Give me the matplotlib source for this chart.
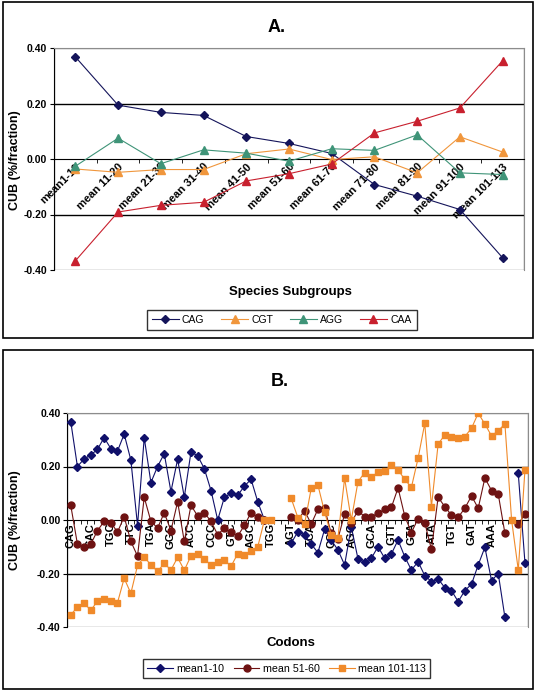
import matplotlib

matplotlib.use("Agg")

import matplotlib.pyplot as plt
import numpy as np
from matplotlib.patches import Rectangle

plt.rcParams['font.family'] = ['Liberation Sans', 'DejaVu Sans']

# ---- panel A data ----
subgroups = ["mean1-10", "mean 11-20", "mean 21-30", "mean 31-40", "mean 41-50",
             "mean 51-60", "mean 61-70", "mean 71-80", "mean 81-90", "mean 91-100",
             "mean 101-113"]
cag = [0.368, 0.194, 0.168, 0.157, 0.081, 0.056, 0.020, -0.092, -0.134, -0.182, -0.356]
cgt = [-0.036, -0.048, -0.038, -0.038, 0.019, 0.036, -0.002, 0.008, -0.050, 0.080, 0.025]
agg = [-0.026, 0.075, -0.017, 0.033, 0.021, -0.008, 0.037, 0.031, 0.087, -0.050, -0.056]
caa = [-0.367, -0.191, -0.167, -0.156, -0.079, -0.053, -0.018, 0.094, 0.136, 0.184, 0.354]

# ---- panel B data (69 codon positions, labels shown on every 3rd) ----
codon_labels = ["CAG", "GAC", "TGC", "TTC", "TGA", "GGG", "ACC", "CCC", "GTC", "AGC", "TGG",
                "AGT", "TCA", "CGC", "AGG", "GCA", "GTT", "GTA", "ATA", "TGT", "GAT", "AAA"]
nan = np.nan
mean1_10 = [0.368, 0.200, 0.228, 0.243, 0.264, 0.308, 0.267, 0.258, 0.321, 0.224,
            -0.021, 0.308, 0.140, 0.200, 0.248, 0.106, 0.227, 0.085, 0.254, 0.240,
            0.192, 0.110, 0.000, 0.085, 0.100, 0.092, 0.127, 0.152, 0.068, 0.000,
            nan, nan, nan, -0.087, -0.044, -0.055, -0.090, -0.122, -0.035, -0.075,
            -0.112, -0.168, -0.025, -0.145, -0.158, -0.143, -0.100, -0.143, -0.127, -0.075,
            -0.137, -0.187, -0.156, -0.208, -0.230, -0.220, -0.253, -0.264, -0.305, -0.264,
            -0.240, -0.168, -0.102, -0.227, -0.200, -0.364, nan, 0.174, -0.160]
mean51_60 = [0.055, -0.090, -0.100, -0.090, -0.040, -0.005, -0.010, -0.045, 0.012, -0.080,
             -0.135, 0.085, -0.005, -0.030, 0.027, -0.040, 0.068, -0.080, 0.055, 0.015,
             0.027, -0.005, -0.055, -0.030, -0.045, -0.060, -0.020, 0.028, 0.010, 0.000,
             nan, nan, nan, 0.010, 0.000, 0.035, -0.015, 0.040, 0.044, -0.050,
             -0.070, 0.022, -0.010, 0.035, 0.012, 0.012, 0.025, 0.040, 0.047, 0.120,
             0.015, -0.047, 0.005, -0.010, -0.110, 0.085, 0.050, 0.018, 0.010, 0.044,
             0.090, 0.044, 0.157, 0.110, 0.097, -0.050, nan, -0.015, 0.022]
mean101_113 = [-0.355, -0.325, -0.310, -0.338, -0.303, -0.297, -0.303, -0.309, -0.218, -0.274,
               -0.170, -0.138, -0.168, -0.192, -0.162, -0.187, -0.140, -0.188, -0.134, -0.128,
               -0.147, -0.168, -0.157, -0.150, -0.173, -0.126, -0.132, -0.115, -0.100, 0.000,
               0.000, nan, nan, 0.081, 0.009, -0.016, 0.118, 0.131, 0.030, -0.056,
               -0.066, 0.156, 0.000, 0.143, 0.177, 0.162, 0.178, 0.184, 0.206, 0.187,
               0.152, 0.122, 0.231, 0.361, 0.050, 0.284, 0.318, 0.312, 0.305, 0.312,
               0.343, 0.399, 0.359, 0.314, 0.334, 0.359, 0.000, -0.187, 0.187]

W, H = 536, 692
fig = plt.figure(figsize=(W / 100, H / 100), dpi=100, facecolor="white")


def px_rect(x0, y0, x1, y1):
    return [x0 / W, 1 - y1 / H, (x1 - x0) / W, (y1 - y0) / H]


def style_axes(ax, n):
    ax.set_xlim(-0.5, n - 0.5)
    ax.set_ylim(-0.4, 0.4)
    ax.set_yticks([-0.4, -0.2, 0.0, 0.2, 0.4])
    ax.set_yticklabels(["-0.40", "-0.20", "0.00", "0.20", "0.40"], fontsize=7.5, fontweight="bold")
    for y in (-0.2, 0.2):
        ax.axhline(y, color="black", lw=1.0, zorder=1)
    for side in ("top", "right"):
        ax.spines[side].set_color("#8c8c8c")
    ax.spines["bottom"].set_position(("data", 0))
    ax.spines["bottom"].set_color("black")
    ax.spines["left"].set_color("black")
    ax.add_patch(Rectangle((0, 0), 1, 1, transform=ax.transAxes, fill=False,
                           edgecolor="#8c8c8c", lw=1.0, zorder=0.5))
    ax.tick_params(axis="y", direction="out", length=3, pad=2)
    ax.set_xticks(np.arange(n - 1) + 0.5, minor=True)
    ax.tick_params(axis="x", which="minor", direction="out", length=3)
    ax.tick_params(axis="x", which="major", length=0, pad=2)


# ---- panel A ----
axA = fig.add_axes(px_rect(54, 48, 524, 270))
xa = np.arange(len(subgroups))
axA.plot(xa, cag, color="#14145a", marker="D", ms=4, lw=0.8, label="CAG", zorder=3)
axA.plot(xa, cgt, color="#f0963c", marker="^", ms=5.5, lw=0.8, label="CGT", zorder=3)
axA.plot(xa, agg, color="#3f9478", marker="^", ms=5.5, lw=0.8, label="AGG", zorder=3)
axA.plot(xa, caa, color="#c8202e", marker="^", ms=5.5, lw=0.8, label="CAA", zorder=3)
style_axes(axA, len(subgroups))
axA.set_xticks(xa)
axA.set_xticklabels(subgroups, rotation=45, ha="right", va="top", rotation_mode="anchor",
                    fontsize=8, fontweight="bold")
fig.text(277 / W, 1 - 28 / H, "A.", ha="center", va="center", fontsize=13, fontweight="bold")
fig.text(15 / W, 1 - 160 / H, "CUB (%/fraction)", ha="center", va="center", rotation=90,
         fontsize=9, fontweight="bold")
fig.text(290 / W, 1 - 292 / H, "Species Subgroups", ha="center", va="center",
         fontsize=9.5, fontweight="bold")
legA = fig.legend(loc="center", bbox_to_anchor=(281.5 / W, 1 - 320 / H), ncol=4,
                  fontsize=7.5, frameon=True, fancybox=False, edgecolor="black",
                  handlelength=2.6, columnspacing=1.6, handletextpad=0.3, borderpad=0.5,
                  handles=axA.get_lines()[:4])
legA.get_frame().set_linewidth(1.0)

# ---- panel B ----
axB = fig.add_axes(px_rect(67.4, 413, 528.3, 627))
xb = np.arange(len(mean1_10))
axB.plot(xb, mean1_10, color="#10106a", marker="D", ms=4, lw=0.8, label="mean1-10", zorder=3)
axB.plot(xb, mean51_60, color="#6e1212", marker="o", ms=5, lw=0.8, label="mean 51-60", zorder=3)
axB.plot(xb, mean101_113, color="#f08a2a", marker="s", ms=5, lw=0.8, label="mean 101-113", zorder=3)
style_axes(axB, len(mean1_10))
axB.set_xticks(np.arange(0, 3 * len(codon_labels), 3))
axB.set_xticklabels(codon_labels, rotation=90, ha="center", va="top", fontsize=8, fontweight="bold")
fig.text(280 / W, 1 - 382 / H, "B.", ha="center", va="center", fontsize=13, fontweight="bold")
fig.text(15 / W, 1 - 520 / H, "CUB (%/fraction)", ha="center", va="center", rotation=90,
         fontsize=9, fontweight="bold")
fig.text(291 / W, 1 - 643 / H, "Codons", ha="center", va="center", fontsize=9.5, fontweight="bold")
legB = fig.legend(loc="center", bbox_to_anchor=(286.5 / W, 1 - 668.5 / H), ncol=3,
                  fontsize=7.7, frameon=True, fancybox=False, edgecolor="black",
                  handlelength=2.4, columnspacing=0.9, handletextpad=0.3, borderpad=0.4,
                  handles=axB.get_lines()[:3])
legB.get_frame().set_linewidth(1.0)

# outer panel frames
fig.add_artist(Rectangle((3 / W, 1 - 338 / H), 530 / W, 336 / H, transform=fig.transFigure,
                         fill=False, edgecolor="black", lw=1.2))
fig.add_artist(Rectangle((3 / W, 1 - 689 / H), 530 / W, 339 / H, transform=fig.transFigure,
                         fill=False, edgecolor="black", lw=1.2))

fig.savefig("out.png", dpi=100, facecolor="white")
